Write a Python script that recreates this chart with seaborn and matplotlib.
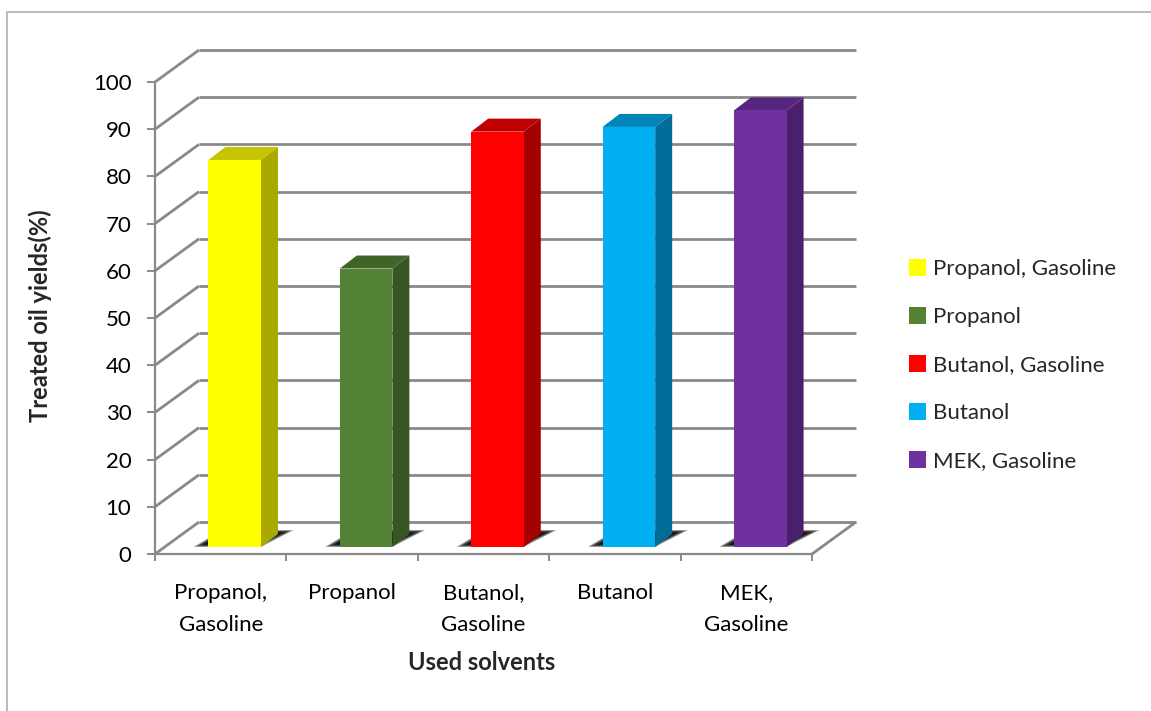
import matplotlib
matplotlib.use("Agg")
import numpy as np
import pandas as pd
import seaborn as sns
import matplotlib.pyplot as plt
from matplotlib.patches import Polygon, Rectangle, Patch
from matplotlib.lines import Line2D
from matplotlib.transforms import IdentityTransform, Affine2D

# ---- data ---------------------------------------------------------------
solvents = ["Propanol, Gasoline", "Propanol", "Butanol, Gasoline", "Butanol", "MEK, Gasoline"]
tick_labels = ["Propanol,\nGasoline", "Propanol", "Butanol,\nGasoline", "Butanol", "MEK,\nGasoline"]
yields = [82, 59, 88, 89, 92.5]
y_ticks = list(range(0, 101, 10))

# face colours: front, right side, top
front_colors = ["#FFFF00", "#548235", "#FF0000", "#00B0F0", "#7030A0"]
side_colors = ["#A9A900", "#375623", "#A50000", "#006E99", "#4A1F6B"]
top_colors = ["#C4C400", "#3F6428", "#C00000", "#0085B6", "#56257C"]

# ---- layout (pixels) ----------------------------------------------------
W, H, DPI = 1151, 711, 100
LEFT, RIGHT, TOP, BOTTOM = 155, 812, 82, 554      # front plane of the plot box
WALL = np.array([44.0, 32.0])                       # depth of the back wall
SHIFT = np.array([14.0, 7.0])                       # bars sit a little behind the front plane
DEPTH = np.array([17.0, 13.0])                      # depth of each bar
GRID = "#898989"
FS = 16
FS_TITLE = 17

sns.set_theme(style="white")
plt.rcParams["font.family"] = ["Lato", "DejaVu Sans"]

fig = plt.figure(figsize=(W / DPI, H / DPI), dpi=DPI)
fig.patch.set_facecolor("white")
ax = fig.add_axes([LEFT / W, 1 - BOTTOM / H, (RIGHT - LEFT) / W, (BOTTOM - TOP) / H])
ax.patch.set_alpha(0)

df = pd.DataFrame({"solvent": solvents, "yield": yields})
sns.barplot(data=df, x="solvent", y="yield", hue="solvent", hue_order=solvents,
            palette=front_colors, saturation=1, width=0.4, linewidth=0,
            legend=False, ax=ax, zorder=6)
ax.set_xlim(-0.5, 4.5)
ax.set_ylim(0, 100)

ident = IdentityTransform()


def disp(x, y):
    return np.asarray(ax.transData.transform((x, y)), dtype=float)


def add_line(p, q, z=1, lw=2.0, color=GRID):
    ax.add_line(Line2D([p[0], q[0]], [p[1], q[1]], transform=ident, color=color,
                       lw=lw, zorder=z, clip_on=False, solid_capstyle="butt"))


# back wall gridlines and left wall diagonals
for v in y_ticks:
    f = disp(-0.5, v)
    b0 = f + WALL
    b1 = disp(4.5, v) + WALL
    add_line(f, b0)
    add_line(b0, b1)
# right edge of the floor
add_line(disp(4.5, 0), disp(4.5, 0) + WALL)

# ---- 3-D bars -----------------------------------------------------------
bars = sorted(ax.patches, key=lambda p: p.get_x())
for i, bar in enumerate(bars):
    x0, w, h = bar.get_x(), bar.get_width(), bar.get_height()
    bar.set_transform(ax.transData + Affine2D().translate(*SHIFT))
    bar.set_clip_on(False)
    fl = disp(x0, 0) + SHIFT
    fr = disp(x0 + w, 0) + SHIFT
    tl = disp(x0, h) + SHIFT
    tr = disp(x0 + w, h) + SHIFT

    # soft floor shadow
    shadow = np.array([fl + [-15, 0], fr + [0, 0], fr + DEPTH + [16, 4], fl + DEPTH + [-4, 4]])
    c = shadow.mean(axis=0)
    for k in range(10):
        s = 1.0 - 0.035 * k
        pts = c + (shadow - c) * np.array([s, 1.0 - 0.05 * k])
        ax.add_patch(Polygon(pts, closed=True, transform=ident, fc="black", ec="none",
                             alpha=0.28, zorder=3, clip_on=False))

    ax.add_patch(Polygon([fr, tr, tr + DEPTH, fr + DEPTH], closed=True, transform=ident,
                         fc=side_colors[i], ec="none", zorder=5, clip_on=False))
    ax.add_patch(Polygon([tl, tr, tr + DEPTH, tl + DEPTH], closed=True, transform=ident,
                         fc=top_colors[i], ec="none", zorder=5, clip_on=False))

# ---- axes ---------------------------------------------------------------
for s in ("top", "right"):
    ax.spines[s].set_visible(False)
for s in ("left", "bottom"):
    ax.spines[s].set_color(GRID)
    ax.spines[s].set_linewidth(1.6)
    ax.spines[s].set_zorder(7)

ax.set_yticks(y_ticks)
ax.set_yticklabels([str(v) for v in y_ticks], fontsize=FS, color="black")
ax.tick_params(axis="y", left=True, length=6, width=1.4, color=GRID, pad=11)

ax.set_xticks(range(len(solvents)))
ax.set_xticklabels(tick_labels, fontsize=FS, color="black", linespacing=1.72)
ax.set_xticks(np.arange(-0.5, 5, 1), minor=True)
ax.tick_params(axis="x", which="major", length=0, pad=21)
ax.tick_params(axis="x", which="minor", bottom=True, length=5, width=1.4, color=GRID)
ax.set_xlabel("")
ax.set_ylabel("")

fig.text(482 / W, 1 - 663 / H, "Used solvents", ha="center", va="center",
         fontsize=FS_TITLE, fontweight="bold")
fig.text(40 / W, 1 - 316 / H, "Treated oil yields(%)", ha="center", va="center",
         rotation=90, fontsize=FS_TITLE, fontweight="bold")

# ---- legend -------------------------------------------------------------
handles = [Patch(facecolor=c, edgecolor="none", label=s) for c, s in zip(front_colors, solvents)]
fig.legend(handles=handles, loc="upper left", bbox_to_anchor=(909 / W, 1 - 259 / H),
           frameon=False, fontsize=FS, handlelength=0.78, handleheight=0.78,
           handletextpad=0.3, labelspacing=1.26, borderpad=0, borderaxespad=0)

# chart area border
fig.patches.append(Rectangle((7 / W, -0.1), 1.2, 1.1 - 12 / H, transform=fig.transFigure,
                             fill=False, ec="#b5b5b5", lw=1.3, zorder=0))

fig.savefig("out.png", dpi=DPI, facecolor="white")
